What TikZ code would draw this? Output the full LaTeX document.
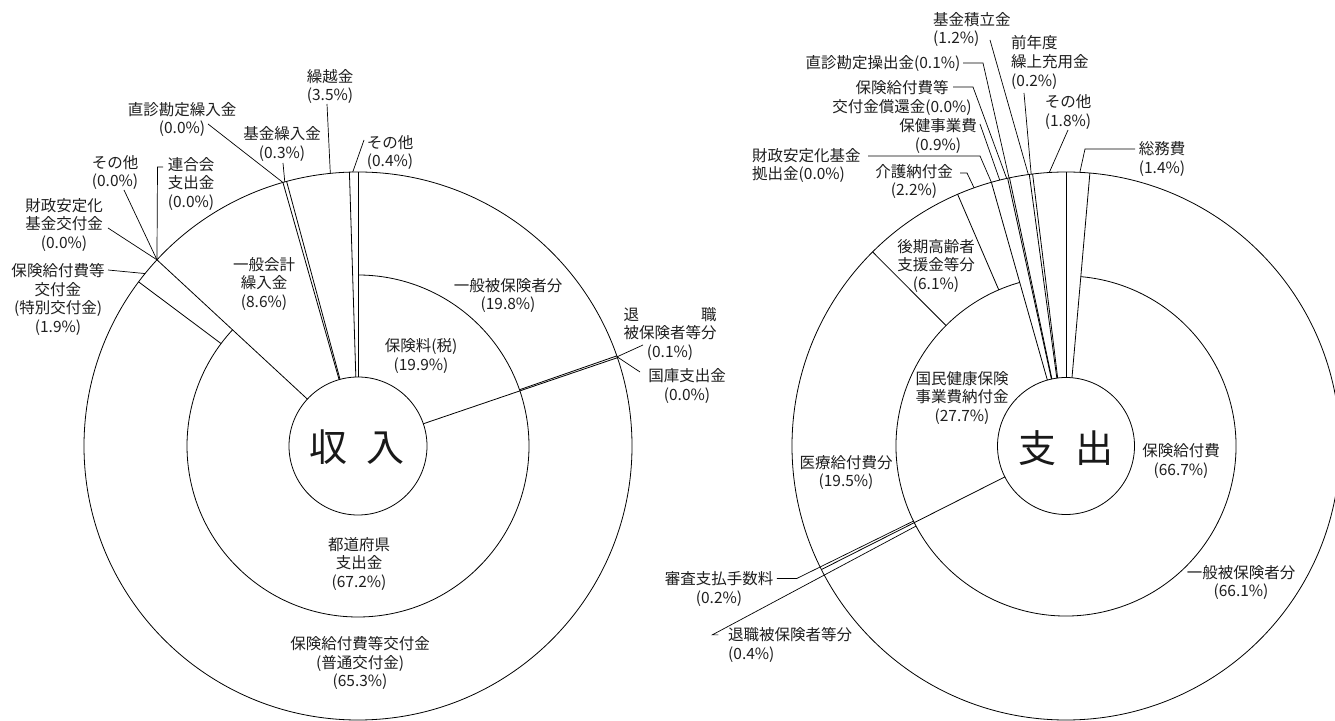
\documentclass[tikz,border=0pt]{standalone}
\usepackage{fontspec}
\setmainfont{Noto Sans CJK JP}
\begin{document}
\begin{tikzpicture}[x=1pt,y=1pt,
  lbl/.style={font=\fontsize{15.5}{18.8}\selectfont, align=center, inner sep=0pt, text=black!88},
  lbll/.style={lbl, align=left},
  big/.style={font=\fontsize{38}{38}\selectfont, inner sep=0pt, text=black!90},
  ring/.style={line width=0.8pt, black},
  ln/.style={line width=0.8pt, black},
  ld/.style={line width=0.7pt, black}]
\useasboundingbox (0,0) rectangle (1335,720);
\clip (0,0) rectangle (1335,720);
\fill[white] (0,0) rectangle (1335,720);

\coordinate (L) at (358,274);
\coordinate (R) at (1066,274);

% ---------------- left chart ----------------
\draw[ring] (L) circle[radius=69];
\draw[ring] (L) circle[radius=274];
\draw[ring] ([shift={(L)}]137.2:171) arc[start angle=137.2, end angle=450, radius=171];
\foreach \a in {90,91.8,105.1,105.9,137.2,18.8}
  \draw[ln] ([shift={(L)}]\a:69) -- ([shift={(L)}]\a:274);
\foreach \a in {143.2,19.2}
  \draw[ln] ([shift={(L)}]\a:171) -- ([shift={(L)}]\a:274);

\node[lbl] (kurikoshi) at (330,633.5) {繰越金\\(3.5\%)};
\node[lbl] (chokushinL) at (182,600.5) {直診勘定繰入金\\(0.0\%)};
\node[lbl] (kikinL) at (282,576) {基金繰入金\\(0.3\%)};
\node[lbl] (sonotaL1) at (390,567.5) {その他\\(0.4\%)};
\node[lbl] (sonotaL2) at (115,547.5) {その他\\(0.0\%)};
\node[lbl] (rengo) at (191,536) {連合会\\支出金\\(0.0\%)};
\node[lbl] (zaiseiL) at (64,495) {財政安定化\\基金交付金\\(0.0\%)};
\node[lbl] (tokubetsu) at (58,420.5) {保険給付費等\\交付金\\(特別交付金)\\(1.9\%)};
\node[lbl] (ippankaikei) at (264,436) {一般会計\\繰入金\\(8.6\%)};
\node[lbl] (hokenryo) at (421,364) {保険料(税)\\(19.9\%)};
\node[lbl] (ippanL) at (508,424.5) {一般被保険者分\\(19.8\%)};
\node[lbl] (taishokuL) at (670,386) {\makebox[6em]{退\hfill 職}\\被保険者等分\\(0.1\%)};
\node[lbl] (kokko) at (687,334) {国庫支出金\\(0.0\%)};
\node[lbl] (todofuken) at (359,156) {都道府県\\支出金\\(67.2\%)};
\node[lbl] (futsu) at (360,57) {保険給付費等交付金\\(普通交付金)\\(65.3\%)};
\node[big] (shunyu) at (357,273) {収\hspace{19pt}入};

\coordinate (aKuri) at (327,616);
\coordinate (aSon1) at (364,580);
\coordinate (aKik) at (283,557);
\coordinate (aChoku) at (208,596);
\coordinate (aSon2) at (124,530);
\coordinate (aRen1) at (163,553);
\coordinate (aRen2) at (157.5,553);
\coordinate (aZai) at (108,492);
\coordinate (aTok) at (108,450);
\coordinate (aTai) at (643,375);
\coordinate (aKok) at (640,348);
\coordinate (pJoint) at ([shift={(L)}]137.2:274);
\coordinate (pTai) at ([shift={(L)}]19.0:274);

\draw[ld] (aKuri) -- ([shift={(L)}]95.8:274);
\draw[ld] (aSon1) -- ([shift={(L)}]91.1:274);
\draw[ld] (aKik) -- ([shift={(L)}]105.5:274);
\draw[ld] (aChoku) -- ([shift={(L)}]105.9:274);
\draw[ld] (aSon2) -- (pJoint);
\draw[ld] (aRen1) -- (aRen2) -- (pJoint);
\draw[ld] (aZai) -- (pJoint);
\draw[ld] (aTok) -- ([shift={(L)}]141:274);
\draw[ld] (aTai) -- (pTai);
\draw[ld] (aKok) -- (pTai);

% ---------------- right chart ----------------
\draw[ring] (R) circle[radius=68.5];
\draw[ring] (R) circle[radius=274];
\draw[ring] ([shift={(R)}]105.8:170) arc[start angle=105.8, end angle=445, radius=170];
\foreach \a in {90,85,206.8,105.8,102.3,101.9,97.7,97.0}
  \draw[ln] ([shift={(R)}]\a:68.5) -- ([shift={(R)}]\a:274);
\foreach \a in {113.3,134.9}
  \draw[ln] ([shift={(R)}]\a:170) -- ([shift={(R)}]\a:274);

\node[lbll, anchor=west] (kikinR) at (933,690.5) {基金積立金\\(1.2\%)};
\node[lbll, anchor=west] (zennendo) at (1011,657.3) {前年度\\繰上充用金\\(0.2\%)};
\node[lbl] (chokushinR) at (883,657) {直診勘定操出金(0.1\%)};
\node[lbl] (shokan) at (902,622) {保険給付費等\\交付金償還金(0.0\%)};
\node[lbl] (hoken) at (938,584) {保健事業費\\(0.9\%)};
\node[lbl] (sonotaR) at (1068,608) {その他\\(1.8\%)};
\node[lbll, anchor=west] (zaiseiR) at (752,554.5) {財政安定化基金\\拠出金(0.0\%)};
\node[lbl] (kaigo) at (914,538.5) {介護納付金\\(2.2\%)};
\node[lbl] (somu) at (1162,561) {総務費\\(1.4\%)};
\node[lbl] (koki) at (936,454) {後期高齢者\\支援金等分\\(6.1\%)};
\node[lbl] (kokuho) at (962,322) {国民健康保険\\事業費納付金\\(27.7\%)};
\node[lbl] (iryo) at (846,247.5) {医療給付費分\\(19.5\%)};
\node[big] (shishutsu) at (1066,272) {支\hspace{19pt}出};
\node[lbl] (hokenkyufu) at (1181,259) {保険給付費\\(66.7\%)};
\node[lbl] (ippanR) at (1241,137.5) {一般被保険者分\\(66.1\%)};
\node[lbl] (shinsa) at (719,131) {審査支払手数料\\(0.2\%)};
\node[lbll, anchor=west] (taishokuR) at (728,75) {退職被保険者等分\\(0.4\%)};

\coordinate (bKik) at (990,680);
\coordinate (bCho1) at (963,657);
\coordinate (bCho2) at (983,657);
\coordinate (bSho1) at (953,633);
\coordinate (bSho2) at (973,633);
\coordinate (bHok) at (980,596);
\coordinate (bZai1) at (868,564);
\coordinate (bZai2) at (980,564);
\coordinate (bKai1) at (960,547);
\coordinate (bKai2) at (967,547);
\coordinate (bZen) at (1024,627);
\coordinate (bSon) at (1068,590);
\coordinate (bSom1) at (1135,571);
\coordinate (bSom2) at (1085,571);

\draw[ld] (bKik) -- ([shift={(R)}]97.9:274);
\draw[ld] (bCho1) -- (bCho2) -- ([shift={(R)}]102.0:274);
\draw[ld] (bSho1) -- (bSho2) -- ([shift={(R)}]102.5:274);
\draw[ld] (bHok) -- ([shift={(R)}]104:274);
\draw[ld] (bZai1) -- (bZai2) -- ([shift={(R)}]105.8:274);
\draw[ld] (bKai1) -- (bKai2) -- ([shift={(R)}]109.6:274);
\draw[ld] (bZen) -- ([shift={(R)}]97.3:274);
\draw[ld] (bSon) -- ([shift={(R)}]93.5:274);
\draw[ld] (bSom1) -- (bSom2) -- ([shift={(R)}]87.1:274);
\draw[ld] ([shift={(R)}]206.2:170) -- ([shift={(R)}]206.2:300) coordinate (bShi) -- ++(-20,0);
\draw[ld] ([shift={(R)}]208.1:170) -- ([shift={(R)}]208.1:401) coordinate (bTai) -- ++(6,0);
\end{tikzpicture}
\end{document}
